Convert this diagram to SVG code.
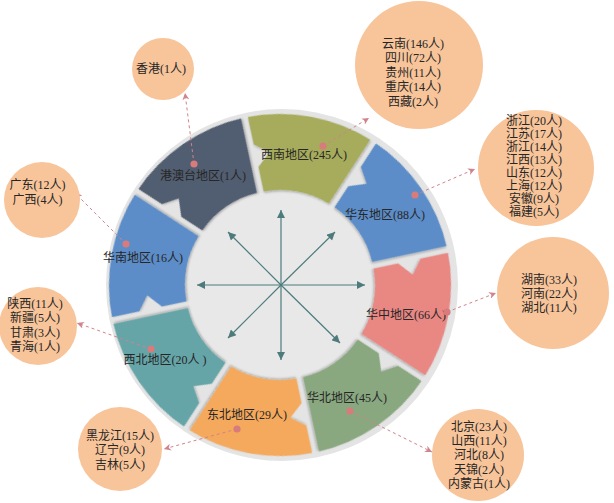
<svg xmlns="http://www.w3.org/2000/svg" xmlns:xlink="http://www.w3.org/1999/xlink" width="614" height="503" viewBox="0 0 614 503">
<style>
  .lbl { font-family: "Liberation Serif", "Noto Sans CJK SC", serif; font-size: 12px; fill: #262626; text-anchor: middle; }
  .bub { fill: #f8c49a; }
  .dot { fill: #d77b7d; }
  .conn { stroke: #d0838a; stroke-width: 1; stroke-dasharray: 3 3; fill: none; marker-end: url(#dashArrow); }
  .ax { stroke: #4d7b7c; stroke-width: 1.2; fill: none; marker-end: url(#axArrow); }
</style>
<defs>
  <path id="seg" d="M -33.12,-89.11 L -42.69,-112.21 L -34.35,-128.65 L -51.49,-133.45 L -62.20,-159.32 A 171 171 0 0 1 62.20,-159.32 L 33.12,-89.11 A 95 95 0 0 0 -33.12,-89.11 Z"/>
  <filter id="sh" x="-20%" y="-20%" width="140%" height="140%">
    <feDropShadow dx="1" dy="1.2" stdDeviation="1" flood-color="#000" flood-opacity="0.28"/>
  </filter>
  <marker id="dashArrow" viewBox="0 0 10 10" refX="10" refY="5" markerWidth="7" markerHeight="7" orient="auto" markerUnits="userSpaceOnUse">
    <path d="M0,0 L10,5 L0,10 L3,5 Z" fill="#d0838a"/>
  </marker>
  <marker id="axArrow" viewBox="0 0 10 10" refX="10" refY="5" markerWidth="9" markerHeight="8" orient="auto" markerUnits="userSpaceOnUse">
    <path d="M0,0 L10,5 L0,10 Z" fill="#4d7b7c"/>
  </marker>
</defs>

<rect width="614" height="503" fill="#ffffff"/>

<g id="wheel-base">
  <circle cx="282" cy="285" r="176" fill="#e4e4e4"/>
  <circle cx="281" cy="285" r="94" fill="#e8e8e8"/>
</g>

<g id="center-arrows">
  <line class="ax" x1="281" y1="285" x2="281" y2="210"/>
  <line class="ax" x1="281" y1="285" x2="281" y2="360"/>
  <line class="ax" x1="281" y1="285" x2="197" y2="285"/>
  <line class="ax" x1="281" y1="285" x2="365" y2="285"/>
  <line class="ax" x1="281" y1="285" x2="228" y2="232"/>
  <line class="ax" x1="281" y1="285" x2="335" y2="232"/>
  <line class="ax" x1="281" y1="285" x2="228" y2="338"/>
  <line class="ax" x1="281" y1="285" x2="340" y2="343"/>
</g>

<g id="region-xinan">
  <use xlink:href="#seg" href="#seg" fill="#a6ac5b" filter="url(#sh)" transform="translate(280,285) rotate(10.5)"/>
  <text class="lbl" x="304" y="159">西南地区(245人)</text>
</g>
<g id="region-huadong">
  <use xlink:href="#seg" href="#seg" fill="#5b8dc8" filter="url(#sh)" transform="translate(280,285) rotate(55.5)"/>
  <text class="lbl" x="385" y="219">华东地区(88人)</text>
</g>
<g id="region-huazhong">
  <use xlink:href="#seg" href="#seg" fill="#e98783" filter="url(#sh)" transform="translate(280,285) rotate(100.5)"/>
  <text class="lbl" x="406" y="319">华中地区(66人)</text>
</g>
<g id="region-huabei">
  <use xlink:href="#seg" href="#seg" fill="#89a880" filter="url(#sh)" transform="translate(280,285) rotate(145.5)"/>
  <text class="lbl" x="347" y="402">华北地区(45人)</text>
</g>
<g id="region-dongbei">
  <use xlink:href="#seg" href="#seg" fill="#f5a95c" filter="url(#sh)" transform="translate(280,285) rotate(190.5)"/>
  <text class="lbl" x="247" y="419">东北地区(29人)</text>
</g>
<g id="region-xibei">
  <use xlink:href="#seg" href="#seg" fill="#65a5a8" filter="url(#sh)" transform="translate(280,285) rotate(235.5)"/>
  <text class="lbl" x="165" y="364">西北地区(20人 )</text>
</g>
<g id="region-huanan">
  <use xlink:href="#seg" href="#seg" fill="#5b8dc8" filter="url(#sh)" transform="translate(280,285) rotate(280.5)"/>
  <text class="lbl" x="143" y="262">华南地区(16人)</text>
</g>
<g id="region-gangaotai">
  <use xlink:href="#seg" href="#seg" fill="#515d6f" filter="url(#sh)" transform="translate(280,285) rotate(325.5)"/>
  <text class="lbl" x="203" y="180">港澳台地区(1人)</text>
</g>

<g id="connectors">
  <line class="conn" x1="194" y1="164" x2="185" y2="93"/>
  <line class="conn" x1="323" y1="146" x2="369" y2="118"/>
  <line class="conn" x1="415" y1="195" x2="475" y2="169"/>
  <line class="conn" x1="447" y1="312" x2="496" y2="293"/>
  <line class="conn" x1="350" y1="411" x2="432" y2="452"/>
  <line class="conn" x1="237" y1="429" x2="164" y2="449"/>
  <line class="conn" x1="151" y1="349" x2="77" y2="323"/>
  <line class="conn" x1="126" y1="244" x2="75" y2="193"/>
  <circle class="dot" cx="194" cy="164" r="3.6"/>
  <circle class="dot" cx="323" cy="146" r="3.6"/>
  <circle class="dot" cx="415" cy="195" r="3.6"/>
  <circle class="dot" cx="447" cy="312" r="3.6"/>
  <circle class="dot" cx="350" cy="411" r="3.6"/>
  <circle class="dot" cx="237" cy="429" r="3.6"/>
  <circle class="dot" cx="151" cy="349" r="3.6"/>
  <circle class="dot" cx="126" cy="244" r="3.6"/>
</g>

<g id="bubble-xianggang">
  <circle class="bub" cx="163" cy="69" r="31"/>
  <text class="lbl" x="161" y="72.5">香港(1人)</text>
</g>
<g id="bubble-xinan">
  <circle class="bub" cx="419" cy="65" r="64"/>
  <text class="lbl" x="413" y="47.5">云南(146人)</text>
  <text class="lbl" x="413" y="62">四川(72人)</text>
  <text class="lbl" x="413" y="76.5">贵州(11人)</text>
  <text class="lbl" x="413" y="91">重庆(14人)</text>
  <text class="lbl" x="413" y="105.5">西藏(2人)</text>
</g>
<g id="bubble-huadong">
  <circle class="bub" cx="536" cy="168" r="58"/>
  <text class="lbl" x="534" y="125">浙江(20人)</text>
  <text class="lbl" x="534" y="138">江苏(17人)</text>
  <text class="lbl" x="534" y="151">浙江(14人)</text>
  <text class="lbl" x="534" y="164">江西(13人)</text>
  <text class="lbl" x="534" y="177">山东(12人)</text>
  <text class="lbl" x="534" y="190">上海(12人)</text>
  <text class="lbl" x="534" y="203">安徽(9人)</text>
  <text class="lbl" x="534" y="216">福建(5人)</text>
</g>
<g id="bubble-huazhong">
  <circle class="bub" cx="553" cy="293" r="56"/>
  <text class="lbl" x="549" y="283.5">湖南(33人)</text>
  <text class="lbl" x="549" y="297.5">河南(22人)</text>
  <text class="lbl" x="549" y="311.5">湖北(11人)</text>
</g>
<g id="bubble-huabei">
  <circle class="bub" cx="478" cy="455" r="46"/>
  <text class="lbl" x="479" y="431">北京(23人)</text>
  <text class="lbl" x="479" y="445">山西(11人)</text>
  <text class="lbl" x="479" y="459">河北(8人)</text>
  <text class="lbl" x="479" y="473.5">天锦(2人)</text>
  <text class="lbl" x="479" y="487.5">内蒙古(1人)</text>
</g>
<g id="bubble-dongbei">
  <circle class="bub" cx="120" cy="449" r="42"/>
  <text class="lbl" x="120" y="440">黑龙江(15人)</text>
  <text class="lbl" x="120" y="454">辽宁(9人)</text>
  <text class="lbl" x="120" y="468.5">吉林(5人)</text>
</g>
<g id="bubble-xibei">
  <circle class="bub" cx="38" cy="326" r="39"/>
  <text class="lbl" x="35" y="307.5">陕西(11人)</text>
  <text class="lbl" x="35" y="322">新疆(5人)</text>
  <text class="lbl" x="35" y="336.5">甘肃(3人)</text>
  <text class="lbl" x="35" y="351">青海(1人)</text>
</g>
<g id="bubble-huanan">
  <circle class="bub" cx="42" cy="200" r="38"/>
  <text class="lbl" x="37.5" y="188.5">广东(12人)</text>
  <text class="lbl" x="37.5" y="204">广西(4人)</text>
</g>
</svg>
